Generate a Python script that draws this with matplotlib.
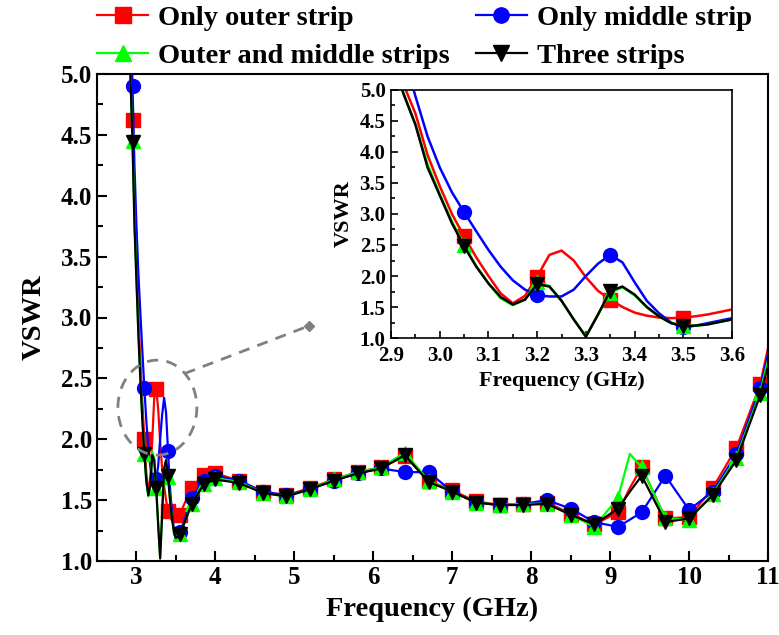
import numpy as np
import matplotlib
matplotlib.use("Agg")
import matplotlib.pyplot as plt
from matplotlib.patches import Ellipse
from matplotlib.ticker import MultipleLocator, FormatStrFormatter

# -------------------------------
# DATA
# -------------------------------
freq = [2.9, 2.925, 2.95, 2.975, 3.0, 3.025, 3.05, 3.075, 3.1, 3.125, 3.15, 3.175,
        3.2, 3.225, 3.25, 3.275, 3.3, 3.325, 3.35, 3.375, 3.4, 3.425, 3.45, 3.475,
        3.5, 3.525, 3.55, 3.575, 3.6, 3.7, 3.85, 4.0, 4.3, 4.6, 4.9, 5.2, 5.5, 5.8,
        6.1, 6.4, 6.7, 7.0, 7.3, 7.6, 7.9, 8.2, 8.5, 8.8, 9.1, 9.25, 9.4, 9.7, 10.0,
        10.3, 10.6, 10.9, 11.0]

vswr_outer = [5.9, 5.1, 4.62, 3.95, 3.45, 3.0, 2.64, 2.3, 2.0, 1.72, 1.56, 1.68,
              1.99, 2.34, 2.41, 2.25, 1.98, 1.76, 1.62, 1.50, 1.41, 1.36, 1.33, 1.32,
              1.33, 1.35, 1.38, 1.42, 1.46, 1.60, 1.71, 1.72, 1.66, 1.57, 1.54, 1.60,
              1.67, 1.73, 1.77, 1.86, 1.66, 1.58, 1.49, 1.46, 1.47, 1.48, 1.39, 1.30,
              1.40, 1.60, 1.77, 1.35, 1.36, 1.60, 1.93, 2.45, 2.75]

vswr_middle = [6.5, 5.6, 4.9, 4.25, 3.75, 3.35, 3.03, 2.72, 2.42, 2.15, 1.93, 1.78,
               1.69, 1.67, 1.67, 1.78, 2.0, 2.2, 2.34, 2.22, 1.9, 1.6, 1.4, 1.25,
               1.17, 1.2, 1.24, 1.28, 1.32, 1.52, 1.66, 1.70, 1.66, 1.57, 1.54, 1.59,
               1.66, 1.72, 1.76, 1.73, 1.73, 1.57, 1.48, 1.46, 1.47, 1.50, 1.43, 1.32,
               1.28, 1.34, 1.40, 1.70, 1.42, 1.57, 1.88, 2.42, 2.70]

vswr_outer_middle = [5.55, 4.95, 4.45, 3.8, 3.32, 2.88, 2.5, 2.16, 1.88, 1.64, 1.53, 1.62,
                     1.9, 1.84, 1.6, 1.3, 1.03, 1.38, 1.73, 1.82, 1.69, 1.5, 1.35, 1.24,
                     1.2, 1.2, 1.22, 1.26, 1.3, 1.47, 1.63, 1.68, 1.65, 1.56, 1.53, 1.59,
                     1.67, 1.73, 1.77, 1.89, 1.66, 1.57, 1.48, 1.46, 1.47, 1.47, 1.38, 1.28,
                     1.52, 1.88, 1.77, 1.35, 1.34, 1.55, 1.85, 2.38, 2.65]

vswr_three = [5.6, 4.95, 4.44, 3.75, 3.3, 2.85, 2.48, 2.15, 1.88, 1.66, 1.54, 1.62,
              1.87, 1.83, 1.6, 1.3, 1.02, 1.38, 1.76, 1.83, 1.70, 1.5, 1.35, 1.24,
              1.19, 1.2, 1.22, 1.26, 1.30, 1.47, 1.63, 1.67, 1.64, 1.56, 1.53, 1.59,
              1.66, 1.72, 1.76, 1.87, 1.65, 1.57, 1.48, 1.46, 1.46, 1.47, 1.38, 1.30,
              1.43, 1.57, 1.70, 1.32, 1.35, 1.54, 1.83, 2.36, 2.60]

labels = ["Only outer strip", "Only middle strip", "Outer and middle strips", "Three strips"]

# frequencies that carry a symbol
marker_freqs_main = [2.95, 3.1, 3.25, 3.4, 3.55, 3.7, 3.85, 4.0, 4.3, 4.6, 4.9, 5.2,
                     5.5, 5.8, 6.1, 6.4, 6.7, 7.0, 7.3, 7.6, 7.9, 8.2, 8.5, 8.8, 9.1,
                     9.4, 9.7, 10.0, 10.3, 10.6, 10.9]
marker_freqs_inset = [3.05, 3.2, 3.35, 3.5]

# -------------------------------
# STYLE
# -------------------------------
plt.rcParams["font.family"] = ["Liberation Serif", "DejaVu Serif"]
plt.rcParams["font.weight"] = "bold"
plt.rcParams["axes.labelweight"] = "bold"

series = [
    (vswr_outer, "#ff0000", "s", labels[0]),
    (vswr_middle, "#0000ff", "o", labels[1]),
    (vswr_outer_middle, "#00ff00", "^", labels[2]),
    (vswr_three, "#000000", "v", labels[3]),
]

f = np.array(freq)
idx_main = [int(np.argmin(np.abs(f - m))) for m in marker_freqs_main]
idx_inset = [int(np.argmin(np.abs(f - m))) for m in marker_freqs_inset]

fig = plt.figure(figsize=(7.79, 6.35), dpi=100)
ax = fig.add_axes([0.1245, 0.1165, 0.8614, 0.767])

handles = []
for vals, col, mk, lab in series:
    h, = ax.plot(freq, vals, color=col, lw=1.6, marker=mk, markersize=10,
                 markevery=idx_main, label=lab)
    handles.append(h)

ax.set_xlim(2.5, 11.0)
ax.set_ylim(1.0, 5.0)
ax.xaxis.set_major_locator(MultipleLocator(1))
ax.xaxis.set_minor_locator(MultipleLocator(0.5))
ax.yaxis.set_major_locator(MultipleLocator(0.5))
ax.yaxis.set_minor_locator(MultipleLocator(0.25))
ax.yaxis.set_major_formatter(FormatStrFormatter("%.1f"))
ax.tick_params(which="both", direction="in", top=False, right=False, width=1.5)
ax.tick_params(which="major", length=7, labelsize=18)
ax.tick_params(which="minor", length=4)
for s in ax.spines.values():
    s.set_linewidth(1.5)
ax.set_xlabel("Frequency (GHz)", fontsize=20.5, labelpad=6)
ax.set_ylabel("VSWR", fontsize=20.5, labelpad=10)

# dashed zoom marker
ell = Ellipse((3.265, 2.26), 1.0, 0.78, fill=False, ec="#808080", lw=2,
              ls=(0, (4, 3)), zorder=5)
ax.add_patch(ell)
ax.plot([3.61, 5.18], [2.54, 2.93], color="#808080", lw=2, ls=(0, (4, 3)), zorder=5)
ax.plot([5.18], [2.93], marker="D", color="#808080", markersize=5, zorder=5)

# legend (two rows above the axes)
order = [0, 2, 1, 3]
fig.legend([handles[i] for i in order], [labels[i] for i in order], ncol=2,
           loc="upper left", bbox_to_anchor=(0.121, 0.997), frameon=False,
           fontsize=20.5, handlelength=1.8, handletextpad=0.35, columnspacing=0.9,
           labelspacing=0.45, borderaxespad=0.0, borderpad=0.1, markerscale=1.1)

# -------------------------------
# INSET
# -------------------------------
axi = fig.add_axes([0.502, 0.4677, 0.4377, 0.3906])
for vals, col, mk, lab in series:
    axi.plot(freq, vals, color=col, lw=1.8, marker=mk, markersize=10,
             markevery=idx_inset)
axi.set_xlim(2.9, 3.6)
axi.set_ylim(1.0, 5.0)
axi.xaxis.set_major_locator(MultipleLocator(0.1))
axi.xaxis.set_minor_locator(MultipleLocator(0.05))
axi.yaxis.set_major_locator(MultipleLocator(0.5))
axi.yaxis.set_minor_locator(MultipleLocator(0.25))
axi.xaxis.set_major_formatter(FormatStrFormatter("%.1f"))
axi.yaxis.set_major_formatter(FormatStrFormatter("%.1f"))
axi.tick_params(which="both", direction="in", top=False, right=False, width=1.2)
axi.tick_params(which="major", length=5, labelsize=15)
axi.tick_params(which="minor", length=3)
axi.tick_params(axis="x", which="major", pad=6)
axi.tick_params(axis="y", which="major", pad=4)
for s in axi.spines.values():
    s.set_linewidth(1.2)
axi.set_xlabel("Frequency (GHz)", fontsize=16, labelpad=3)
axi.set_ylabel("VSWR", fontsize=16, labelpad=4)

plt.savefig("out.png", dpi=100)
plt.close()
